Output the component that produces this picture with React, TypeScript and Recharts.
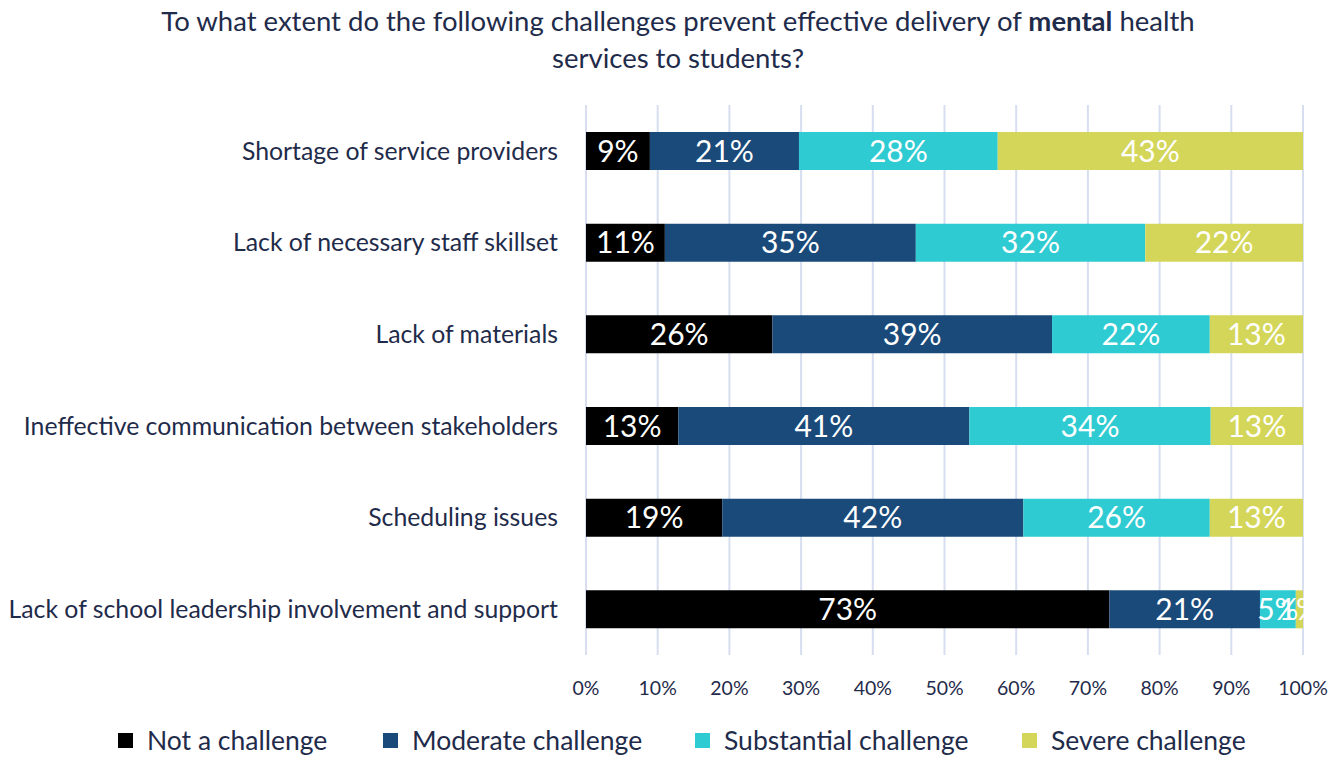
import { BarChart, Bar, XAxis, YAxis, CartesianGrid, LabelList } from "recharts";

const categories = [
  "Shortage of service providers",
  "Lack of necessary staff skillset",
  "Lack of materials",
  "Ineffective communication between stakeholders",
  "Scheduling issues",
  "Lack of school leadership involvement and support",
];
const notChallenge = [9, 11, 26, 13, 19, 73];
const moderate = [21, 35, 39, 41, 42, 21];
const substantial = [28, 32, 22, 34, 26, 5];
const severe = [43, 22, 13, 13, 13, 1];
const xTicks = [0, 0.1, 0.2, 0.3, 0.4, 0.5, 0.6, 0.7, 0.8, 0.9, 1];

const series = [
  { key: "not", name: "Not a challenge", color: "#000000" },
  { key: "moderate", name: "Moderate challenge", color: "#1a4a7a" },
  { key: "substantial", name: "Substantial challenge", color: "#2ecbd2" },
  { key: "severe", name: "Severe challenge", color: "#d4d65a" },
];

const data = categories.map((name, i) => ({
  name,
  not: notChallenge[i],
  moderate: moderate[i],
  substantial: substantial[i],
  severe: severe[i],
}));

const FONT = "Lato, 'Open Sans', sans-serif";
const TEXT = "#1f2b4a";

// legend square x positions
const legendLeft = [118, 383, 695, 1022];

export default function App() {
  return (
    <div style={{ position: "absolute", left: 0, top: 0, width: 1343, height: 757, background: "#fff" }}>
      <div
        style={{
          position: "absolute",
          left: 0,
          top: 2,
          width: 1356,
          textAlign: "center",
          fontFamily: FONT,
          fontSize: 27.5,
          lineHeight: "37px",
          color: TEXT,
        }}
      >
        To what extent do the following challenges prevent effective delivery of <b>mental</b> health
        <br />
        services to students?
      </div>
      <BarChart
        width={1343}
        height={757}
        data={data}
        layout="vertical"
        stackOffset="expand"
        barCategoryGap={27}
        margin={{ top: 105, right: 40, bottom: 72, left: 0 }}
      >
        <CartesianGrid horizontal={false} stroke="#d6def0" strokeWidth={2} />
        <XAxis
          type="number"
          domain={[0, 1]}
          ticks={xTicks}
          tickFormatter={(v: number) => `${Math.round(v * 100)}%`}
          axisLine={false}
          tickLine={false}
          tickMargin={20}
          tick={{ fill: TEXT, fontSize: 19.5, fontFamily: FONT }}
        />
        <YAxis
          type="category"
          dataKey="name"
          width={586}
          axisLine={false}
          tickLine={false}
          tickMargin={22}
          tick={{ fill: TEXT, fontSize: 24.8, fontFamily: FONT }}
        />
        {series.map((s) => (
          <Bar key={s.key} dataKey={s.key} name={s.name} stackId="a" fill={s.color} isAnimationActive={false}>
            <LabelList
              dataKey={s.key}
              position="center"
              fill="#ffffff"
              fontSize={30}
              fontFamily={FONT}
              formatter={(v: number) => `${v}%`}
            />
          </Bar>
        ))}
      </BarChart>
      {series.map((s, i) => (
        <div
          key={s.key}
          style={{
            position: "absolute",
            left: legendLeft[i],
            top: 724,
            display: "flex",
            alignItems: "center",
            fontFamily: FONT,
            fontSize: 26.5,
            color: TEXT,
            whiteSpace: "nowrap",
          }}
        >
          <span style={{ width: 15, height: 15, background: s.color, marginRight: 14, display: "inline-block" }} />
          {s.name}
        </div>
      ))}
    </div>
  );
}
